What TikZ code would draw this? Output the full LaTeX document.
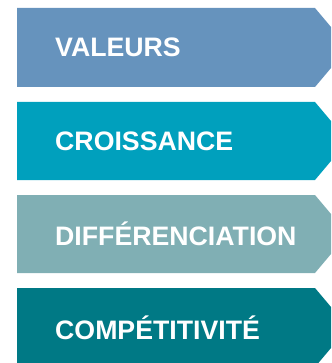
\documentclass[tikz,border=0pt]{standalone}
\usepackage{fontspec}
\setmainfont{Liberation Sans}
\definecolor{cA}{HTML}{6693BD}
\definecolor{cB}{HTML}{00A0BD}
\definecolor{cC}{HTML}{80AFB4}
\definecolor{cD}{HTML}{007985}
\tikzset{
  chev/.style={fill=#1, draw=none},
  lbl/.style={anchor=west, text=white, font=\fontsize{26.7}{29}\selectfont\bfseries, inner sep=0pt}
}
\begin{document}
\begin{tikzpicture}[x=1pt,y=-1pt]
\useasboundingbox (0,0) rectangle (331,363);
\clip (0,0) rectangle (331,363);
\foreach \t/\b/\c in {8/87/cA, 102/180/cB, 195/273/cC, 288/367/cD}{
  \fill[chev=\c] (17,\t) -- (315,\t) -- ({315+(\b-\t)/2*16/19},{(\t+\b)/2}) -- (315,\b) -- (17,\b) -- cycle;
}
\node[lbl] (v) at (55,47.5) {VALEURS};
\node[lbl] (c) at (55,141) {CROISSANCE};
\node[lbl] (d) at (55,234) {DIFFÉRENCIATION};
\node[lbl] (p) at (55,327.5) {COMPÉTITIVITÉ};
\end{tikzpicture}
\end{document}
